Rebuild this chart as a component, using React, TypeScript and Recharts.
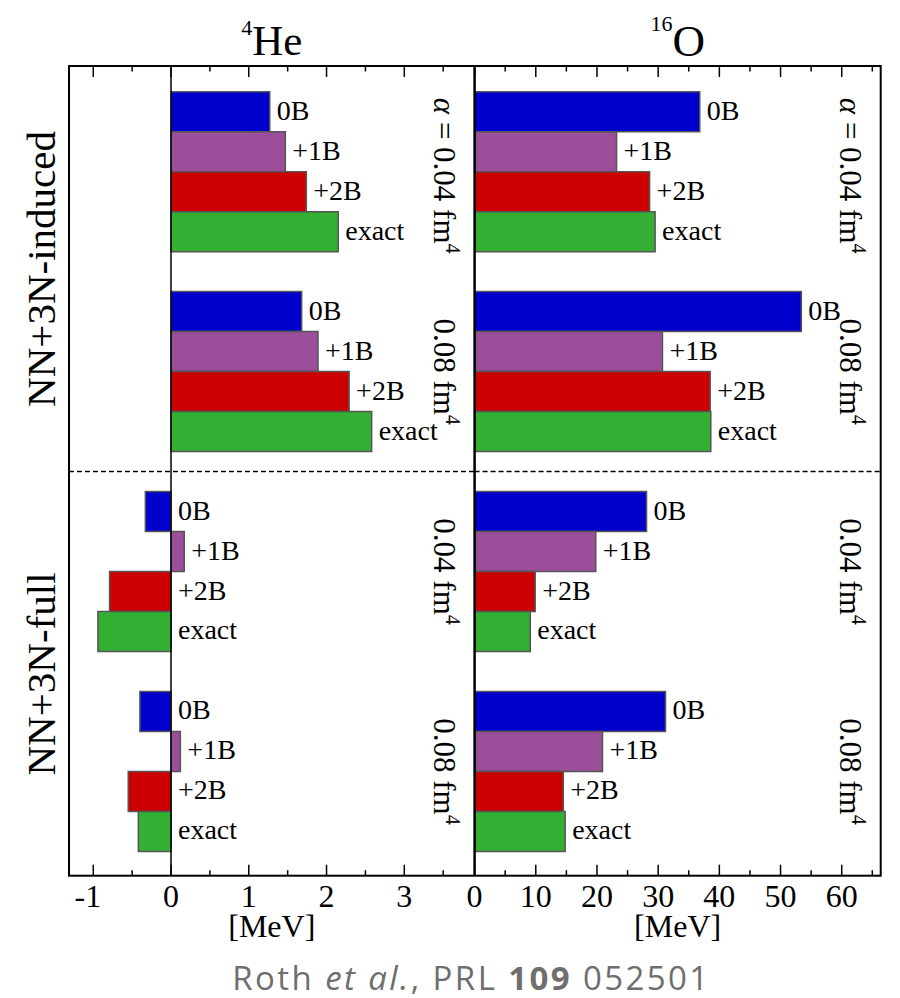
import React from "react";
import {
  BarChart,
  Bar,
  XAxis,
  YAxis,
  Cell,
  LabelList,
  ReferenceLine,
} from "recharts";

// bar names, top to bottom inside each group
const variants = ["0B", "+1B", "+2B", "exact"];

// 4He ground-state energy differences [MeV]
const he4InducedA004 = [1.27, 1.47, 1.74, 2.15];
const he4InducedA008 = [1.68, 1.89, 2.29, 2.58];
const he4FullA004 = [-0.33, 0.17, -0.79, -0.94];
const he4FullA008 = [-0.4, 0.12, -0.55, -0.42];

// 16O ground-state energy differences [MeV]
const o16InducedA004 = [36.8, 23.2, 28.6, 29.5];
const o16InducedA008 = [53.4, 30.7, 38.5, 38.6];
const o16FullA004 = [28.1, 19.8, 9.9, 9.1];
const o16FullA008 = [31.2, 20.9, 14.5, 14.8];

// flow parameter labels for each group
const groupAlpha = ["0.04", "0.08", "0.04", "0.08"];

const he4Ticks = [-1, -0.5, 0, 0.5, 1, 1.5, 2, 2.5, 3, 3.5];
const o16Ticks = [0, 5, 10, 15, 20, 25, 30, 35, 40, 45, 50, 55, 60, 65];

const COLORS = ["#0000cc", "#9b4f9b", "#cc0000", "#33b033"];
const SERIF = "Liberation Serif";

const CHART_W = 900;
const CHART_H = 998;
const PLOT_TOP = 66;
const PLOT_BOTTOM = 875.7;
const X_AXIS_H = 61;
const LEFT_X0 = 69;
const MID_X = 474.6;
const RIGHT_X1 = 880.7;

type Row = {
  key: string;
  value: number | null;
  variant: number;
  name?: string;
  tag?: number;
};

const buildRows = (groups: number[][]): Row[] => {
  const rows: Row[] = [];
  groups.forEach((vals, g) => {
    if (g > 0) rows.push({ key: `gap${g}`, value: null, variant: -1 });
    vals.forEach((v, i) =>
      rows.push({
        key: `g${g}v${i}`,
        value: v,
        variant: i,
        name: variants[i],
        tag: i === 0 ? g : undefined,
      })
    );
  });
  return rows;
};

const he4Rows = buildRows([he4InducedA004, he4InducedA008, he4FullA004, he4FullA008]);
const o16Rows = buildRows([o16InducedA004, o16InducedA008, o16FullA004, o16FullA008]);

const AxisTick = (props: any) => {
  const { x, y, payload, majorStep } = props;
  const v = payload.value;
  const major = Math.abs(v / majorStep - Math.round(v / majorStep)) < 1e-6;
  const len = major ? 11 : 5.5;
  const top = y - (PLOT_BOTTOM - PLOT_TOP);
  return (
    <g>
      <line x1={x} x2={x} y1={y} y2={y - len} stroke="#000" strokeWidth={1.5} />
      <line x1={x} x2={x} y1={top} y2={top + len} stroke="#000" strokeWidth={1.5} />
      {major && (
        <text
          x={v < 0 ? x + 8 : x}
          y={y + 31}
          textAnchor={v < 0 ? "end" : "middle"}
          fontSize={32}
          style={{ fontFamily: SERIF }}
          fill="#000"
        >
          {String(v)}
        </text>
      )}
    </g>
  );
};

const BarName = (props: any) => {
  const { x, y, width, height, value } = props;
  if (value == null) return null;
  const endX = Math.max(x, x + width);
  return (
    <text
      x={endX + 7}
      y={y + height / 2 + 8}
      fontSize={28}
      style={{ fontFamily: SERIF }}
      fill="#000"
    >
      {value}
    </text>
  );
};

const makeGroupLabel = (panelRight: number) => (props: any) => {
  const { y, height, value } = props;
  if (value == null) return null;
  const g = Number(value);
  return (
    <text
      transform={`translate(${panelRight - 41}, ${y + 2 * height + (g === 0 ? 4 : 0)}) rotate(90)`}
      textAnchor="middle"
      fontSize={31}
      style={{ fontFamily: SERIF }}
      fill="#000"
    >
      {g === 0 && <tspan fontStyle="italic">α</tspan>}
      {g === 0 ? ` = ${groupAlpha[g]} fm` : `${groupAlpha[g]} fm`}
      <tspan dy={-12} fontSize={20}>4</tspan>
    </text>
  );
};

type PanelProps = {
  rows: Row[];
  domain: [number, number];
  ticks: number[];
  majorStep: number;
  left: number;
  right: number;
  zeroLine: boolean;
};

const Panel = ({ rows, domain, ticks, majorStep, left, right, zeroLine }: PanelProps) => (
  <div style={{ position: "absolute", left: 0, top: 0 }}>
    <BarChart
      width={CHART_W}
      height={CHART_H}
      data={rows}
      layout="vertical"
      margin={{
        top: PLOT_TOP,
        bottom: CHART_H - PLOT_BOTTOM - X_AXIS_H,
        left,
        right: CHART_W - right,
      }}
      barCategoryGap={0}
      barGap={0}
    >
      <XAxis
        type="number"
        domain={domain}
        ticks={ticks}
        interval={0}
        allowDataOverflow
        axisLine={false}
        tickLine={false}
        tickSize={0}
        tickMargin={0}
        height={X_AXIS_H}
        tick={(p: any) => <AxisTick {...p} majorStep={majorStep} />}
        label={{
          value: "[MeV]",
          position: "insideBottom",
          offset: 0,
          fontSize: 32,
          style: { fontFamily: SERIF },
          fill: "#000",
        }}
      />
      <YAxis
        type="category"
        dataKey="key"
        hide
        width={0}
        padding={{ top: 25.7, bottom: 24.3 }}
      />
      {zeroLine && <ReferenceLine x={0} stroke="#000" strokeWidth={1.5} />}
      <ReferenceLine y="gap2" stroke="#000" strokeWidth={1.5} strokeDasharray="5 3" />
      <Bar dataKey="value" isAnimationActive={false} stroke="#555" strokeWidth={1.5}>
        {rows.map((r) => (
          <Cell key={r.key} fill={r.variant >= 0 ? COLORS[r.variant] : "none"} />
        ))}
        <LabelList dataKey="name" content={BarName} />
        <LabelList dataKey="tag" content={makeGroupLabel(right)} />
      </Bar>
    </BarChart>
  </div>
);

const App = () => {
  const leftCenter = (LEFT_X0 + MID_X) / 2;
  const rightCenter = (MID_X + RIGHT_X1) / 2;
  return (
    <div
      style={{
        position: "absolute",
        left: 0,
        top: 0,
        width: CHART_W,
        height: CHART_H,
        background: "#fff",
        fontFamily: SERIF,
      }}
    >
      <Panel
        rows={he4Rows}
        domain={[-1.312, 3.904]}
        ticks={he4Ticks}
        majorStep={1}
        left={LEFT_X0}
        right={MID_X}
        zeroLine
      />
      <Panel
        rows={o16Rows}
        domain={[0, 66.37]}
        ticks={o16Ticks}
        majorStep={10}
        left={MID_X}
        right={RIGHT_X1}
        zeroLine={false}
      />
      <svg
        width={CHART_W}
        height={CHART_H}
        style={{ position: "absolute", left: 0, top: 0, pointerEvents: "none" }}
      >
        <rect
          x={LEFT_X0}
          y={PLOT_TOP}
          width={RIGHT_X1 - LEFT_X0}
          height={PLOT_BOTTOM - PLOT_TOP}
          fill="none"
          stroke="#000"
          strokeWidth={2}
        />
        <line x1={MID_X} x2={MID_X} y1={PLOT_TOP} y2={PLOT_BOTTOM} stroke="#000" strokeWidth={2.5} />

        <text x={leftCenter} y={55} textAnchor="middle" fontSize={43} style={{ fontFamily: SERIF }} fill="#000">
          <tspan fontSize={22} dy={-20}>4</tspan>
          <tspan dy={20}>He</tspan>
        </text>
        <text x={rightCenter} y={56} textAnchor="middle" fontSize={45} style={{ fontFamily: SERIF }} fill="#000">
          <tspan fontSize={22} dy={-25}>16</tspan>
          <tspan dy={25}>O</tspan>
        </text>

        <text
          transform={`translate(55, 269) rotate(-90)`}
          textAnchor="middle"
          fontSize={41}
          style={{ fontFamily: SERIF }}
          fill="#000"
        >
          NN+3N-induced
        </text>
        <text
          transform={`translate(55, 674) rotate(-90)`}
          textAnchor="middle"
          fontSize={41}
          style={{ fontFamily: SERIF }}
          fill="#000"
        >
          NN+3N-full
        </text>

        <text
          x={471.5}
          y={990}
          textAnchor="middle"
          fontSize={33}
          letterSpacing={2.4}
          style={{ fontFamily: "'Open Sans', Lato, sans-serif" }}
          fill="#6e6e6e"
        >
          {"Roth "}
          <tspan fontStyle="italic">et al.</tspan>
          {", PRL "}
          <tspan fontWeight="bold">109</tspan>
          {" 052501"}
        </text>
      </svg>
    </div>
  );
};

export default App;
